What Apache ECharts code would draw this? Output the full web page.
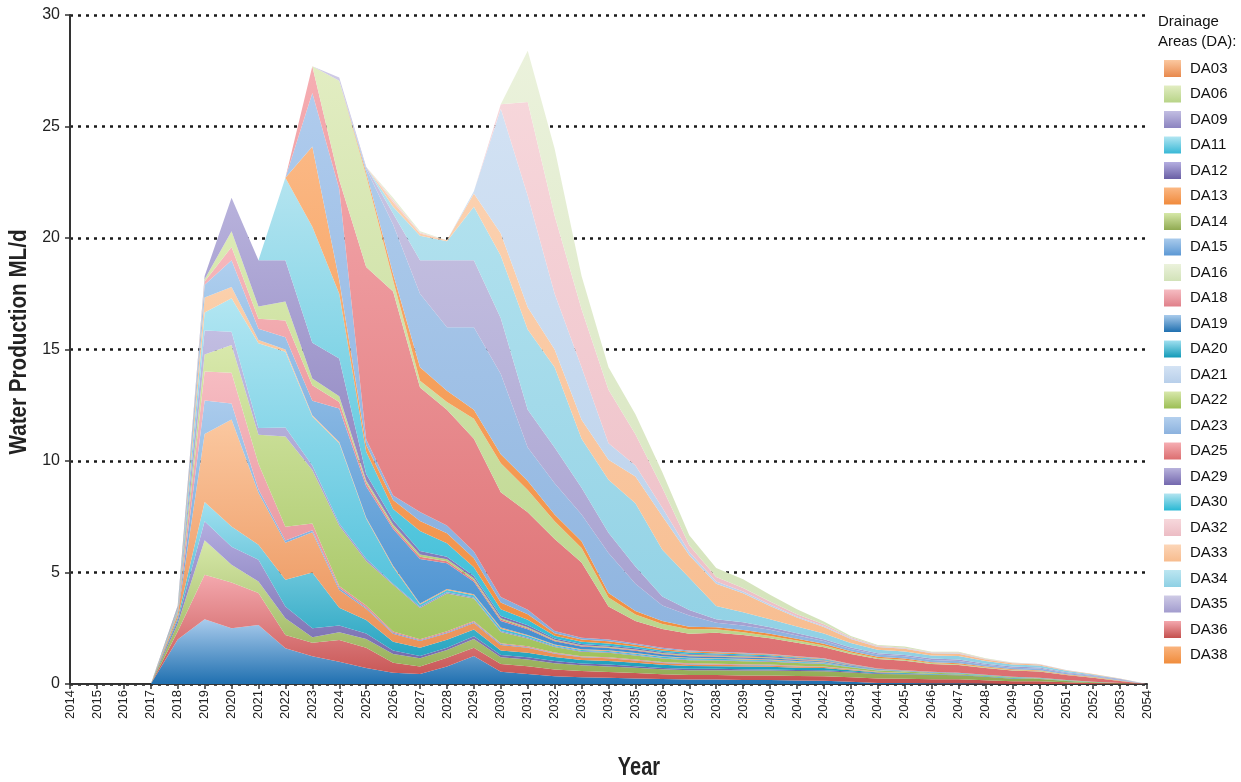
<!DOCTYPE html>
<html>
<head>
<meta charset="utf-8">
<script src="https://cdn.jsdelivr.net/npm/echarts@6/dist/echarts.min.js"></script>
<style>
html,body{margin:0;padding:0;background:#fff;}
#chart{width:1241px;height:782px;}
</style>
</head>
<body>
<div id="chart"></div>
<script>
// Category (tick) labels
const years = ['2014','2015','2016','2017','2018','2019','2020','2021','2022','2023','2024','2025','2026','2027','2028','2029','2030','2031','2032','2033','2034','2035','2036','2037','2038','2039','2040','2041','2042','2043','2044','2045','2046','2047','2048','2049','2050','2051','2052','2053','2054'];
// Years 2014-2016 carry no production
const lead = [0, 0, 0];
// Layer values, 2017 .. 2054 (ML/d), listed bottom of stack to top
const da19 = [0,2.0,2.9,2.5,2.65,1.6,1.25,1.0,0.72,0.5,0.45,0.78,1.26,0.55,0.45, .35,.3,.28,.25,.22, .2,.2,.18,.18,.16,.15,.1,.05,.04,.03,.03,.02,0,0,0,0,0,0];
const da36 = [0,.35,2.0,2.05,1.43,.6,.6,.97,.9,.45,.33,.4,.36,.35,.35, .3,.28,.26,.24,.22, .2,.2,.2,.2,.2,.2,.2,.2,.2,.18,.18,.15,.12,.12,.08,.05,.02,0];
const da14 = [0,.35,1.55,.8,.52,.75,.25,.35,.4,.4,.38,.35,.4,.3,.3, .28,.26,.25,.24,.22, .22,.22,.22,.22,.22,.22,.22,.2,.2,.2,.18,.15,.12,.1,.06,.03,.02,0];
const da12 = [0,.15,.85,.8,.97,.52,.4,.3,.25,.15,.1,.1,.12,.1,.1, .1,.08,.08,.07,.06, .06,.06,.06,.05,.05,.05,.04,.03,.02,.02,.02,.02,.01,.01,0,0,0,0];
const da20 = [0,.1,.86,.91,.67,1.2,2.5,.8,.6,.4,.37,.35,.3,.2,.2, .18,.16,.16,.15,.14, .13,.12,.12,.12,.1,.1,.06,.04,.03,.02,.02,.02,.02,.01,.01,0,0,0];
const da03 = [0,.15,3.05,4.8,2.34,1.66,1.8,.8,.5,.35,.3,.3,.3,.25,.22, .15,.12,.12,.1,.08, .07,.06,.06,.05,.05,.04,.03,.02,.01,0,0,0,0,0,0,0,0,0];
const da15 = [0,.05,1.5,.72,.15,.1,.1,.08,.05,.05,.03,.03,.04,.04,.03, .02,.02,.02,.02,.02, .02,.02,.02,.02,.02,.01,.01,0,0,0,0,0,0,0,0,0,0,0];
const da18 = [0,.05,1.3,1.38,1.15,.62,.3,.1,.1,.05,.05,.05,.05,.04,.04, .03,.03,.03,.03,.03, .03,.03,.03,.03,.02,.02,.01,.01,.01,.01,0,0,0,0,0,0,0,0];
const da22 = [0,.05,.77,1.24,1.3,4.05,2.4,2.7,2.0,2.1,1.4,1.7,1.0,.5,.35, .25,.2,.2,.18,.15, .14,.14,.13,.13,.12,.11,.08,.06,.05,.04,.04,.03,.03,.02,.02,.01,0,0];
const da09 = [0,.05,1.07,.6,.3,.4,.2,.1,.1,.05,.05,.05,.05,.05,.04, .03,.03,.03,.03,.03, .03,.03,.03,.03,.02,.02,.01,.01,0,0,0,0,0,0,0,0,0,0];
const da11 = [0,.05,.81,1.5,3.8,3.4,2.2,3.6,1.8,.75,.1,.1,.1,.1,.08, .05,.05,.05,.05,.05, .05,.05,.05,.04,.04,.03,.02,.01,.01,.01,.01,.01,.01,.01,.01,.01,0,0];
const da33b = [0,.05,.67,.5,.15,.1,.05,.05,.05,.05,.05,.05,.05,.05,.04, .03,.03,.03,.03,.03, .03,.03,.03,.03,.03,.02,.01,.01,.01,0,0,0,0,0,0,0,0,0];
const da19b = [0,.05,.57,1.2,.5,.55,.65,1.5,1.4,1.65,2.0,1.15,.55,.3,.25, .15,.12,.1,.1,.08, .07,.06,.06,.06,.05,.04,.03,.02,.01,.01,.01,.01,.01,.01,0,0,0,0];
const da18b = [0,.02,.15,.6,.45,.75,.7,.3,.15,.1,.1,.1,.08,.06,.05, .03,.03,.03,.03,.03, .03,.03,.02,.02,.02,.02,.01,0,0,0,0,0,0,0,0,0,0,0];
const da22b = [0,.02,.1,.7,.55,.85,.3,.25,.1,.1,.1,.08,.08,.06,.05, .03,.03,.03,.03,.03, .03,.03,.03,.02,.02,.02,.01,0,0,0,0,0,0,0,0,0,0,0];
const da29 = [0,.02,.15,1.5,2.07,1.85,1.6,1.7,.3,.2,.15,.12,.1,.1,.08, .06,.05,.05,.05,.04, .04,.04,.04,.04,.03,.03,.02,.01,.01,.01,0,0,0,0,0,0,0,0];
const da30 = [0,0,0,0,0,3.7,5.2,2.9,1.0,.5,.9,.6,.4,.3,.25, .12,.1,.1,.08,.07, .06,.05,.05,.05,.04,.03,.02,.01,.01,.01,.01,.01,0,0,0,0,0,0];
const da13 = [0,0,0,0,0,0,3.6,.6,.3,.4,.45,.45,.4,.3,.25, .12,.1,.1,.08,.07, .05,.05,.04,.03,.03,.02,.01,.01,.01,.01,0,0,0,0,0,0,0,0];
const da23b = [0,0,0,0,0,0,2.4,4.1,.25,.2,.4,.35,.3,.25,.2, .1,.08,.07,.06,.05, .04,.03,.03,.03,.03,.02,.01,.01,0,0,0,0,0,0,0,0,0,0];
const da25 = [0,0,0,0,0,0,1.2,.4,7.73,9.15,5.59,5.19,5.06,4.7,4.37, 4.12,3.38,1.49,1.0,.85, .75,.85,.8,.7,.6,.5,.45,.42,.42,.35,.35,.3,.28,.28,.22,.18,.1,0];
const da06 = [0,0,0,0,0,0,0,4.45,4.1,.5,.3,.35,.9,1.3,1.0, .8,.65,.4,.3,.22, .2,.15,.12,.1,.1,.08,.06,.05,.05,.04,.04,.03,.03,.03,.02,.02,.01,0];
const da38 = [0,0,0,0,0,0,0,0,.15,.3,.6,.5,.4,.4,.4, .3,.3,.2,.15,.13, .12,.1,.1,.1,.08,.08,.06,.05,.05,.04,.04,.03,.03,.03,.02,.02,.01,0];
const da23 = [0,0,0,0,0,0,0,0,.15,2.2,3.3,2.85,3.7,3.6,1.5, 1.4,1.2,1.8,1.23,.7, .5,.2,.2,.18,.15,.12,.1,.1,.1,.1,.1,.08,.07,.07,.05,.04,.03,0];
const da35 = [0,0,0,0,0,0,0,.15,.1,.5,1.5,3.0,3.0,2.5,1.7, 1.6,1.2,.9,.77,.4, .25,.15,.15,.12,.1,.08,.07,.06,.06,.06,.07,.05,.05,.05,.04,.03,.03,0];
const da34 = [0,0,0,0,0,0,0,0,0,.3,1.1,.85,2.4,2.8,3.6, 3.6,2.2,2.38,2.83,2.1, 1.45,.6,.45,.35,.3,.25,.2,.16,.16,.14,.16,.12,.1,.09,.06,.04,.02,0];
const da33 = [0,0,0,0,0,0,0,0,0,.2,.1,.05,.6,1.0,1.0, .8,.85,.9,1.2,1.5, 1.0,1.0,.85,.6,.4,.3,.18,.12,.12,.1,.1,.07,.05,.05,.03,.02,.01,0];
const da21 = [0,0,0,0,0,0,0,0,0,0,0,0,.1,5.6,5.0, 2.5,2.35,.74,.5,.38, .15,.1,.08,.07,.05,.04,.03,.02,.02,.02,.02,.01,.01,.01,.01,0,0,0];
const da32 = [0,0,0,0,0,0,0,0,0,.1,.05,0,0,.2,4.2, 3.5,2.6,2.4,1.4,.9, .3,.2,.15,.13,.1,.08,.05,.03,.03,.02,.03,.02,.01,.01,0,0,0,0];
const da16 = [0,0,0,0,0,0,0,0,0,.1,.05,0,0,0,2.3, 3.0,1.5,1.0,.9,.7, .45,.4,.4,.3,.22,.12,.05,.04,.05,.03,.04,.02,.01,0,0,0,0,0];

const legendNames = ['DA03','DA06','DA09','DA11','DA12','DA13','DA14','DA15','DA16','DA18','DA19','DA20','DA21','DA22','DA23','DA25','DA29','DA30','DA32','DA33','DA34','DA35','DA36','DA38'];

// [name, values, top colour, bottom colour]
const layers = [
  ['DA19', da19, '#a9cbec', '#2070b0'],
  ['DA36', da36, '#f4a8ae', '#c4504e'],
  ['DA14', da14, '#d6e8a8', '#90aa52'],
  ['DA12', da12, '#b4aee0', '#6a5fa5'],
  ['DA20', da20, '#a0e0f0', '#129ab8'],
  ['DA03', da03, '#fbc8a0', '#e8894d'],
  ['DA15', da15, '#aacbec', '#5c98d4'],
  ['DA18', da18, '#f6bcc2', '#e0808a'],
  ['DA22', da22, '#d8e8ac', '#9cbf55'],
  ['DA09', da09, '#c2bee2', '#8c84c0'],
  ['DA11', da11, '#b2e6f2', '#38b8d6'],
  ['DA33 b', da33b, '#fbd0ac', '#f4a060'],
  ['DA19 b', da19b, '#b0cfee', '#3a88cc'],
  ['DA18 b', da18b, '#f6b8bd', '#e06c70'],
  ['DA22 b', da22b, '#dcebb6', '#a8c868'],
  ['DA29', da29, '#b8b2dc', '#7468ae'],
  ['DA30', da30, '#b4e4f0', '#28b8d4'],
  ['DA13', da13, '#fbb884', '#f08a3c'],
  ['DA23 b', da23b, '#b0cced', '#80aadc'],
  ['DA25', da25, '#f6aeb3', '#dc6e70'],
  ['DA06', da06, '#e2edc2', '#b8d488'],
  ['DA38', da38, '#fab47e', '#f08c3c'],
  ['DA23', da23, '#b4d0ee', '#8cb2de'],
  ['DA35', da35, '#cfcbe6', '#a29cce'],
  ['DA34', da34, '#bce6f1', '#8ed0e4'],
  ['DA33', da33, '#fcd6b8', '#f7bc8e'],
  ['DA21', da21, '#d4e3f4', '#b8cfea'],
  ['DA32', da32, '#f7d8dc', '#ecbcc4'],
  ['DA16', da16, '#ebf2dc', '#d2e2b8']
];

function grad(a, b) {
  return {type:'linear', x:0, y:0, x2:0, y2:1, colorStops:[{offset:0, color:a},{offset:1, color:b}]};
}

const series = layers.map(function (l) {
  return {
    name: l[0],
    type: 'line',
    stack: 'total',
    data: lead.concat(l[1]),
    symbol: 'none',
    showSymbol: false,
    lineStyle: {width: 0, opacity: 0},
    itemStyle: {color: grad(l[2], l[3])},
    areaStyle: {color: grad(l[2], l[3]), opacity: 1},
    emphasis: {disabled: true},
    silent: true
  };
});

const chart = echarts.init(document.getElementById('chart'), null, {renderer: 'canvas'});
chart.setOption({
  animation: false,
  backgroundColor: '#ffffff',
  grid: {left: 70, right: 94, top: 15, bottom: 98, containLabel: false},
  legend: {
    data: legendNames,
    orient: 'vertical',
    left: 1159,
    top: 55,
    icon: 'rect',
    itemWidth: 17,
    itemHeight: 17,
    itemGap: 8.5,
    selectedMode: false,
    textStyle: {fontSize: 15, color: '#111', fontFamily: 'Liberation Sans, Arial, sans-serif', padding: [0,0,0,4]}
  },
  xAxis: {
    type: 'category',
    data: years,
    boundaryGap: false,
    axisLine: {lineStyle: {color: '#333', width: 2}},
    axisTick: {show: true, interval: 0, length: 5, lineStyle: {color: '#333', width: 1.5}},
    axisLabel: {interval: 0, rotate: 90, fontSize: 13, margin: 6, color: '#222', fontFamily: 'Liberation Sans, Arial, sans-serif'},
    splitLine: {show: false}
  },
  yAxis: {
    type: 'value',
    min: 0, max: 30, interval: 5,
    axisLine: {show: true, lineStyle: {color: '#333', width: 2}},
    axisTick: {show: true, length: 5, lineStyle: {color: '#333', width: 1.5}},
    axisLabel: {fontSize: 16, margin: 10, color: '#222', fontFamily: 'Liberation Sans, Arial, sans-serif'},
    splitLine: {show: true, lineStyle: {color: '#1a1a1a', width: 2.5, type: [3, 5]}}
  },
  graphic: [
    {type: 'text', left: 1158, top: 12, style: {text: 'Drainage\nAreas (DA):', font: '15px "Liberation Sans", Arial, sans-serif', fill: '#111', lineHeight: 20}},
    {type: 'text', x: 19, y: 342, rotation: Math.PI / 2, scaleX: 0.86, style: {text: 'Water Production ML/d', font: 'bold 24px "Liberation Sans", Arial, sans-serif', fill: '#222', align: 'center', verticalAlign: 'middle'}},
    {type: 'text', x: 639, y: 768, scaleX: 0.8, style: {text: 'Year', font: 'bold 25px "Liberation Sans", Arial, sans-serif', fill: '#222', align: 'center', verticalAlign: 'middle'}}
  ],
  series: series
});
</script>
</body>
</html>
